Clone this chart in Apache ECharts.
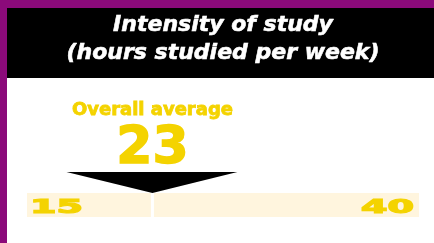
<!DOCTYPE html>
<html>
<head>
<meta charset="utf-8">
<script src="https://cdn.jsdelivr.net/npm/echarts@6/dist/echarts.min.js"></script>
<style>
  html, body { margin: 0; padding: 0; background: #fff; }
  #chart { width: 434px; height: 243px; }
</style>
</head>
<body>
<div id="chart"></div>
<script>
document.addEventListener("DOMContentLoaded", function() {

// range of hours studied per week, and the overall average
var rangeMin = 15;
var rangeMax = 40;
var average = 23;
var segments = [[rangeMin, average], [average, rangeMax]];
var tickLabels = [rangeMin, rangeMax];
var titleLines = ['Intensity of study', '(hours studied per week)'];

var purple = '#8b0a7a';
var yellow = '#f4d300';
var cream = '#fff5de';

var chartDom = document.getElementById('chart');
var studyChart = echarts.init(chartDom);
var option;

option = {
  animation: false,
  graphic: [
    { type: 'rect', shape: { x: 0, y: 0, width: 434, height: 8 }, style: { fill: purple } },
    { type: 'rect', shape: { x: 0, y: 0, width: 7, height: 243 }, style: { fill: purple } },
    { type: 'rect', shape: { x: 7, y: 8, width: 427, height: 70 }, style: { fill: '#000' } },
    {
      type: 'text', x: 223, y: 25,
      style: {
        text: titleLines[0],
        fill: '#fff', stroke: '#fff', lineWidth: 0.6,
        font: 'italic bold 22px "DejaVu Sans"',
        align: 'center', verticalAlign: 'middle'
      }
    },
    {
      type: 'text', x: 223, y: 53,
      style: {
        text: titleLines[1],
        fill: '#fff', stroke: '#fff', lineWidth: 0.6,
        font: 'italic bold 22px "DejaVu Sans"',
        align: 'center', verticalAlign: 'middle'
      }
    }
  ],
  grid: {
    left: 27,
    right: 15,
    top: 193,
    height: 24
  },
  xAxis: {
    type: 'value',
    min: rangeMin,
    max: rangeMax,
    show: false
  },
  yAxis: {
    type: 'value',
    min: 0,
    max: 1,
    show: false
  },
  series: [
    {
      // cream strip, split at the average
      type: 'custom',
      clip: false,
      data: segments,
      renderItem: function(params, api) {
        var lo = api.coord([api.value(0), 0]);
        var hi = api.coord([api.value(1), 1]);
        var x0 = lo[0] + (api.value(0) === average ? 1.5 : 0);
        var x1 = hi[0] - (api.value(1) === average ? 1.5 : 0);
        return {
          type: 'rect',
          shape: { x: x0, y: hi[1], width: x1 - x0, height: lo[1] - hi[1] },
          style: { fill: cream }
        };
      }
    },
    {
      // end labels 15 and 40
      type: 'custom',
      clip: false,
      data: tickLabels,
      renderItem: function(params, api) {
        var v = api.value(0);
        var p = api.coord([v, 0.5]);
        var isLeft = v === rangeMin;
        return {
          type: 'text',
          x: p[0] + (isLeft ? 3 : -5),
          y: p[1] + 3,
          scaleX: 2,
          style: {
            text: String(v),
            fill: yellow, stroke: yellow, lineWidth: 1.2,
            font: 'bold 19px "DejaVu Sans"',
            align: isLeft ? 'left' : 'right',
            verticalAlign: 'middle'
          }
        };
      }
    },
    {
      // arrow and overall average
      type: 'custom',
      clip: false,
      data: [average],
      renderItem: function(params, api) {
        var p = api.coord([api.value(0), 1]);
        return {
          type: 'group',
          children: [
            {
              type: 'polygon',
              shape: { points: [[p[0] - 86, p[1] - 21], [p[0] + 85, p[1] - 21], [p[0], p[1]]] },
              style: { fill: '#000' }
            },
            {
              type: 'text',
              x: p[0], y: p[1] - 83,
              style: {
                text: 'Overall average',
                fill: yellow, stroke: yellow, lineWidth: 0.8,
                font: 'bold 18px "DejaVu Sans"',
                align: 'center',
                verticalAlign: 'middle'
              }
            },
            {
              type: 'text',
              x: p[0], y: p[1] - 44,
              style: {
                text: String(api.value(0)),
                fill: yellow, stroke: yellow, lineWidth: 1.5,
                font: 'bold 52px "DejaVu Sans"',
                align: 'center',
                verticalAlign: 'middle'
              }
            }
          ]
        };
      }
    }
  ]
};

studyChart.setOption(option);

});
</script>
</body>
</html>
